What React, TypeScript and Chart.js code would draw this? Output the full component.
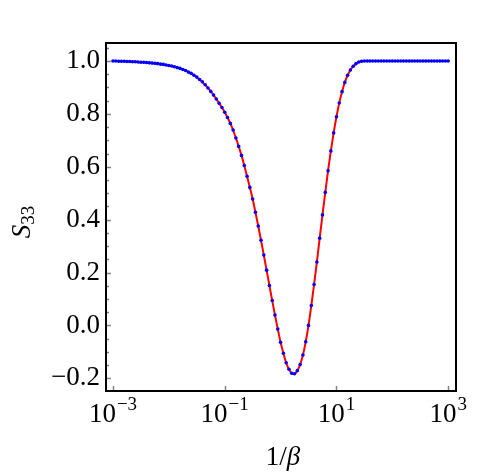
import React, { useEffect, useRef } from "react";
import { Chart, registerables } from "chart.js";

Chart.register(...registerables);

// exponents of 1/beta (x = 10^e)
const logX = [
  -3.0, -2.95, -2.9, -2.85, -2.8, -2.75, -2.7, -2.65, -2.6, -2.55,
  -2.5, -2.45, -2.4, -2.35, -2.3, -2.25, -2.2, -2.15, -2.1, -2.05,
  -2.0, -1.95, -1.9, -1.85, -1.8, -1.75, -1.7, -1.65, -1.6, -1.55,
  -1.5, -1.45, -1.4, -1.35, -1.3, -1.25, -1.2, -1.15, -1.1, -1.05,
  -1.0, -0.95, -0.9, -0.85, -0.8, -0.75, -0.7, -0.65, -0.6, -0.55,
  -0.5, -0.45, -0.4, -0.35, -0.3, -0.25, -0.2, -0.15, -0.1, -0.05,
  0.0, 0.05, 0.1, 0.15, 0.2, 0.25, 0.3, 0.35, 0.4, 0.45,
  0.5, 0.55, 0.6, 0.65, 0.7, 0.75, 0.8, 0.85, 0.9, 0.95,
  1.0, 1.05, 1.1, 1.15, 1.2, 1.25, 1.3, 1.35, 1.4, 1.45,
  1.5, 1.55, 1.6, 1.65, 1.7, 1.75, 1.8, 1.85, 1.9, 1.95,
  2.0, 2.05, 2.1, 2.15, 2.2, 2.25, 2.3, 2.35, 2.4, 2.45,
  2.5, 2.55, 2.6, 2.65, 2.7, 2.75, 2.8, 2.85, 2.9, 2.95,
  3.0,
];

const s33 = [
  1.0, 1.0, 0.999, 0.999, 0.999, 0.998, 0.998, 0.997, 0.997, 0.996,
  0.995, 0.995, 0.994, 0.993, 0.992, 0.991, 0.99, 0.988, 0.987, 0.985,
  0.983, 0.981, 0.978, 0.975, 0.972, 0.968, 0.964, 0.958, 0.953, 0.946,
  0.939, 0.93, 0.921, 0.91, 0.898, 0.885, 0.871, 0.856, 0.84, 0.824,
  0.806, 0.786, 0.764, 0.739, 0.709, 0.677, 0.643, 0.605, 0.564, 0.522,
  0.478, 0.428, 0.376, 0.322, 0.266, 0.209, 0.151, 0.094, 0.039, -0.014,
  -0.064, -0.105, -0.141, -0.166, -0.181, -0.183, -0.171, -0.148, -0.112, -0.062,
  0.0, 0.075, 0.155, 0.24, 0.33, 0.418, 0.503, 0.585, 0.66, 0.728,
  0.789, 0.841, 0.884, 0.919, 0.946, 0.966, 0.98, 0.99, 0.996, 0.999,
  1.0, 1.0, 1.0, 1.0, 1.0, 1.0, 1.0, 1.0, 1.0, 1.0,
  1.0, 1.0, 1.0, 1.0, 1.0, 1.0, 1.0, 1.0, 1.0, 1.0,
  1.0, 1.0, 1.0, 1.0, 1.0, 1.0, 1.0, 1.0, 1.0, 1.0,
  1.0,
];

const xTickExponents = [-3, -1, 1, 3];
const yTickValues = [-0.2, 0.0, 0.2, 0.4, 0.6, 0.8, 1.0];
const yMinorTicks = [
  -0.15, -0.1, -0.05, 0.05, 0.1, 0.15, 0.25, 0.3, 0.35, 0.45, 0.5, 0.55,
  0.65, 0.7, 0.75, 0.85, 0.9, 0.95, 1.05,
];
const xTitleMain = "1/";
const xTitleGreek = "β";
const yTitleMain = "S";
const yTitleSub = "33";

const FONT = "'Liberation Serif', 'DejaVu Serif', serif";

const decorPlugin = {
  id: "decor",
  afterDraw(chart: any) {
    const ctx = chart.ctx as CanvasRenderingContext2D;
    const area = chart.chartArea;
    const xs = chart.scales.x;
    const ys = chart.scales.y;
    ctx.save();

    // tick marks (inside)
    ctx.strokeStyle = "#808080";
    ctx.lineWidth = 1.5;
    ctx.beginPath();
    for (const v of yTickValues) {
      const py = Math.round(ys.getPixelForValue(v)) + 0.5;
      ctx.moveTo(area.left, py);
      ctx.lineTo(area.left + 5, py);
    }
    for (const v of yMinorTicks) {
      const py = Math.round(ys.getPixelForValue(v)) + 0.5;
      ctx.moveTo(area.left, py);
      ctx.lineTo(area.left + 3, py);
    }
    for (const e of xTickExponents) {
      const px = Math.round(xs.getPixelForValue(Math.pow(10, e))) + 0.5;
      ctx.moveTo(px, area.bottom);
      ctx.lineTo(px, area.bottom - 5);
    }
    ctx.stroke();

    // frame
    ctx.strokeStyle = "#000";
    ctx.lineWidth = 2;
    ctx.strokeRect(area.left, area.top, area.right - area.left, area.bottom - area.top);

    // x tick labels 10^e
    ctx.fillStyle = "#000";
    ctx.textBaseline = "alphabetic";
    ctx.textAlign = "left";
    for (const e of xTickExponents) {
      const px = xs.getPixelForValue(Math.pow(10, e));
      const base = "10";
      const exp = e < 0 ? "\u2212" + Math.abs(e) : String(e);
      ctx.font = `27px ${FONT}`;
      const w1 = ctx.measureText(base).width;
      ctx.font = `19px ${FONT}`;
      const w2 = ctx.measureText(exp).width;
      const start = px - (w1 + 1 + w2) / 2;
      ctx.font = `27px ${FONT}`;
      ctx.fillText(base, start, 422);
      ctx.font = `19px ${FONT}`;
      ctx.fillText(exp, start + w1 + 1, 410);
    }

    // x title
    ctx.font = `27px ${FONT}`;
    const t1 = ctx.measureText(xTitleMain).width;
    ctx.font = `italic 27px ${FONT}`;
    const t2 = ctx.measureText(xTitleGreek).width;
    const tx = 283 - (t1 + t2) / 2;
    ctx.font = `27px ${FONT}`;
    ctx.fillText(xTitleMain, tx, 465);
    ctx.font = `italic 27px ${FONT}`;
    ctx.fillText(xTitleGreek, tx + t1, 465);

    // y title (rotated)
    ctx.translate(30, 222);
    ctx.rotate(-Math.PI / 2);
    ctx.font = `italic 27px ${FONT}`;
    const s1 = ctx.measureText(yTitleMain).width;
    ctx.font = `19px ${FONT}`;
    const s2 = ctx.measureText(yTitleSub).width;
    const sx = -(s1 + s2) / 2;
    ctx.font = `italic 27px ${FONT}`;
    ctx.fillText(yTitleMain, sx, 0);
    ctx.font = `19px ${FONT}`;
    ctx.fillText(yTitleSub, sx + s1, 4);

    ctx.restore();
  },
};

export default function App() {
  const canvasRef = useRef<HTMLCanvasElement | null>(null);

  useEffect(() => {
    document.body.style.margin = "0";
    const canvas = canvasRef.current;
    if (!canvas) return;
    const pts = logX.map((e, i) => ({ x: Math.pow(10, e), y: s33[i] }));
    const chart = new Chart(canvas, {
      type: "scatter",
      data: {
        datasets: [
          {
            label: "numeric",
            data: pts,
            showLine: false,
            pointRadius: 1.8,
            pointBorderWidth: 0,
            pointBackgroundColor: "#0000ff",
            pointBorderColor: "#0000ff",
            order: 0,
          },
          {
            label: "analytic",
            data: pts,
            showLine: true,
            borderColor: "#ff0000",
            borderWidth: 2,
            pointRadius: 0,
            fill: false,
            cubicInterpolationMode: "monotone",
            order: 1,
          } as any,
        ],
      },
      options: {
        animation: false,
        responsive: false,
        devicePixelRatio: 1,
        layout: { padding: { top: 43, right: 44, left: 0, bottom: 0 } },
        plugins: {
          legend: { display: false },
          tooltip: { enabled: false },
          title: { display: false },
        },
        scales: {
          x: {
            type: "logarithmic",
            min: Math.pow(10, -3.125),
            max: Math.pow(10, 3.14),
            grid: { display: false, drawTicks: false },
            border: { display: false },
            ticks: { display: false },
            afterBuildTicks: (scale: any) => {
              scale.ticks = xTickExponents.map((e) => ({ value: Math.pow(10, e) }));
            },
            afterFit: (scale: any) => {
              scale.height = 84;
            },
          },
          y: {
            type: "linear",
            min: -0.248,
            max: 1.068,
            grid: { display: false, drawTicks: false },
            border: { display: false },
            ticks: {
              padding: 6,
              color: "#000",
              font: { family: FONT, size: 27 },
              callback: (v: any) => {
                const s = Number(v).toFixed(1);
                return s.replace("-", "\u2212");
              },
            },
            afterBuildTicks: (scale: any) => {
              scale.ticks = yTickValues.map((v) => ({ value: v }));
            },
            afterFit: (scale: any) => {
              scale.width = 106;
            },
          },
        },
      },
      plugins: [decorPlugin],
    });
    return () => chart.destroy();
  }, []);

  return (
    <div style={{ position: "absolute", left: 0, top: 0, width: 500, height: 475 }}>
      <canvas ref={canvasRef} width={500} height={475} />
    </div>
  );
}
